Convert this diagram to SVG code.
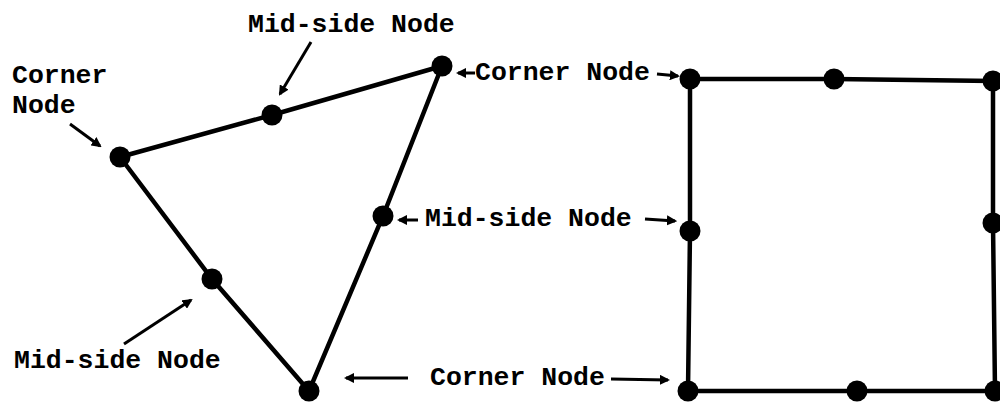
<svg xmlns="http://www.w3.org/2000/svg" width="1000" height="404" viewBox="0 0 1000 404">
<defs>
<style>
.edge{stroke:#000;stroke-width:4.5;fill:none;stroke-linecap:round}
.arr{stroke:#000;stroke-width:3;fill:none;marker-end:url(#ah)}
.node{fill:#000}
.lbl{font-family:"Liberation Mono","Courier New",monospace;font-size:26.5px;font-weight:bold;fill:#000}
</style>
<marker id="ah" viewBox="0 0 10 10" refX="8" refY="5" markerWidth="3.4" markerHeight="3.4" orient="auto" markerUnits="strokeWidth">
<path d="M0,0 L10,5 L0,10 z" fill="#000"/>
</marker>
</defs>
<rect width="1000" height="404" fill="#fff"/>
<g id="edges">
<polyline class="edge" points="120,157 272,115 442,66 383,216 309,391 212,279 120,157"/>
<polyline class="edge" points="690,79 834,79 993,81 993,223 995,391 857,391 688,391 690,231 690,79"/>
</g>
<g id="connectors">
<line class="arr" x1="311" y1="42" x2="280" y2="94"/>
<line class="arr" x1="70" y1="124" x2="100" y2="146"/>
<line class="arr" x1="124" y1="344" x2="191" y2="300"/>
<line class="arr" x1="475" y1="73" x2="458" y2="73"/>
<line class="arr" x1="657" y1="74" x2="678" y2="76"/>
<line class="arr" x1="418" y1="220" x2="399" y2="220"/>
<line class="arr" x1="645" y1="219" x2="675" y2="221"/>
<line class="arr" x1="408" y1="378" x2="346" y2="378"/>
<line class="arr" x1="611" y1="379" x2="668" y2="380"/>
</g>
<g id="tri-corner-1"><circle class="node" cx="120" cy="157" r="10.5"/></g>
<g id="tri-mid-1"><circle class="node" cx="272" cy="115" r="10.5"/></g>
<g id="tri-corner-2"><circle class="node" cx="442" cy="66" r="10.5"/></g>
<g id="tri-mid-2"><circle class="node" cx="383" cy="216" r="10.5"/></g>
<g id="tri-corner-3"><circle class="node" cx="309" cy="391" r="10.5"/></g>
<g id="tri-mid-3"><circle class="node" cx="212" cy="279" r="10.5"/></g>
<g id="quad-corner-1"><circle class="node" cx="690" cy="79" r="10.5"/></g>
<g id="quad-mid-1"><circle class="node" cx="834" cy="79" r="10.5"/></g>
<g id="quad-corner-2"><circle class="node" cx="993" cy="81" r="10.5"/></g>
<g id="quad-mid-2"><circle class="node" cx="993" cy="223" r="10.5"/></g>
<g id="quad-corner-3"><circle class="node" cx="995" cy="391" r="10.5"/></g>
<g id="quad-mid-3"><circle class="node" cx="857" cy="391" r="10.5"/></g>
<g id="quad-corner-4"><circle class="node" cx="688" cy="391" r="10.5"/></g>
<g id="quad-mid-4"><circle class="node" cx="690" cy="231" r="10.5"/></g>
<g id="labels">
<text class="lbl" x="248" y="32">Mid-side Node</text>
<text class="lbl" x="12" y="83">Corner</text>
<text class="lbl" x="12" y="113">Node</text>
<text class="lbl" x="475" y="80">Corner Node</text>
<text class="lbl" x="425" y="226">Mid-side Node</text>
<text class="lbl" x="14" y="368">Mid-side Node</text>
<text class="lbl" x="430" y="385">Corner Node</text>
</g>
</svg>
